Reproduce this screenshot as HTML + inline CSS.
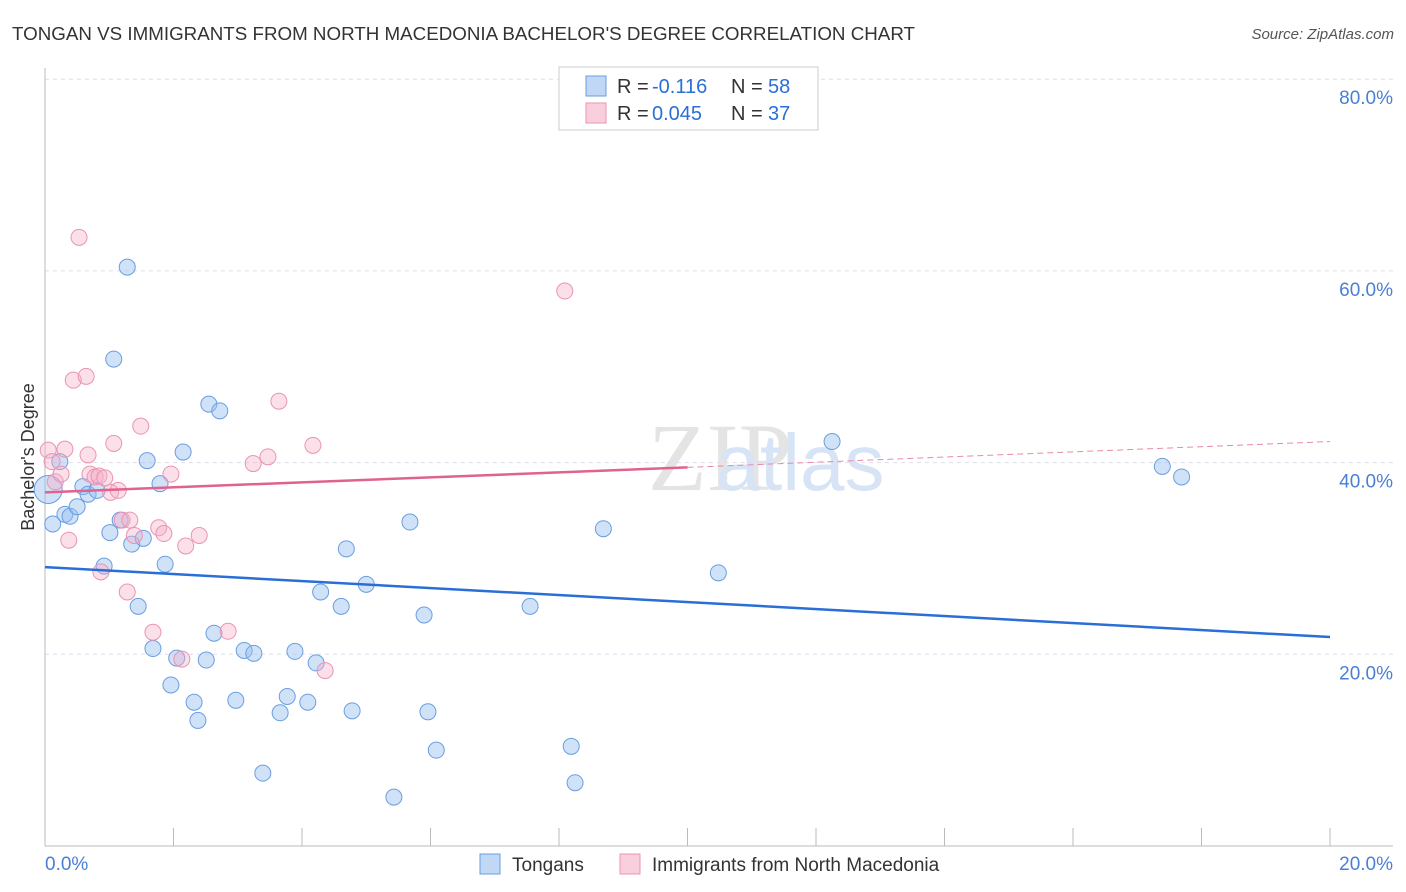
<!DOCTYPE html>
<html><head><meta charset="utf-8">
<style>
body{margin:0;background:#fff;width:1406px;height:892px;overflow:hidden;font-family:"Liberation Sans",sans-serif;}
svg{position:absolute;left:0;top:0;}
</style></head>
<body>
<svg id="chart" width="1406" height="892"></svg>
<script>
const blueX=[0.12,0.23,0.31,0.39,0.5,0.59,0.67,0.81,0.92,1.01,1.07,1.17,1.28,1.35,1.45,1.53,1.59,1.68,1.79,1.87,1.96,2.05,2.15,2.32,2.38,2.51,2.55,2.63,2.72,2.97,3.1,3.25,3.39,3.66,3.77,3.89,4.09,4.22,4.29,4.61,4.69,4.78,5.0,5.43,5.68,5.9,5.96,6.09,7.55,8.19,8.25,8.69,10.48,12.25,17.39,17.69,0.05];
const blueY=[33.6,40.1,34.6,34.4,35.4,37.5,36.7,37.1,29.2,32.7,50.8,34.0,60.4,31.5,25.0,32.1,40.2,20.6,37.8,29.4,16.8,19.6,41.1,15.0,13.1,19.4,46.1,22.2,45.4,15.2,20.4,20.1,7.6,13.9,15.6,20.3,15.0,19.1,26.5,25.0,31.0,14.1,27.3,5.1,33.8,24.1,14.0,10.0,25.0,10.4,6.6,33.1,28.5,42.2,39.6,38.5,37.2];
const pinkX=[0.05,0.11,0.16,0.25,0.31,0.37,0.44,0.53,0.64,0.67,0.7,0.78,0.84,0.87,0.93,1.02,1.07,1.14,1.2,1.28,1.32,1.39,1.49,1.68,1.77,1.85,1.96,2.13,2.19,2.4,2.85,3.24,3.47,3.64,4.17,4.36,8.09];
const pinkY=[41.3,40.1,38.0,38.8,41.4,31.9,48.6,63.5,49.0,40.8,38.8,38.5,38.6,28.6,38.4,36.9,42.0,37.1,34.0,26.5,34.0,32.4,43.8,22.3,33.2,32.6,38.8,19.5,31.3,32.4,22.4,39.9,40.6,46.4,41.8,18.3,57.9];
const yTicks=[20,40,60,80];
const NS="http://www.w3.org/2000/svg";
const svg=document.getElementById('chart');
const X0=45,X1=1330,Y0=846,PX=191.7/20;
const sx=v=>X0+(v/20)*(X1-X0);
const sy=v=>Y0-v*PX;
function mk(tag,attrs,text){const e=document.createElementNS(NS,tag);for(const k in attrs)e.setAttribute(k,attrs[k]);if(text!==undefined)e.textContent=text;svg.appendChild(e);return e;}
let t=mk('text',{x:12,y:40,'font-size':18,fill:'#333',textLength:903,lengthAdjust:'spacingAndGlyphs'},"TONGAN VS IMMIGRANTS FROM NORTH MACEDONIA BACHELOR'S DEGREE CORRELATION CHART");


t=mk('text',{x:1394,y:39,'font-size':15,fill:'#555','font-style':'italic','text-anchor':'end'},"Source: ZipAtlas.com");


t=mk('text',{x:720,y:490,'font-size':96,fill:'#e4e4e4','text-anchor':'middle','font-family':'Liberation Serif, serif'},"ZIP");


t=mk('text',{x:800,y:490,'font-size':80,fill:'#d6e4f5','text-anchor':'middle'},"atlas");


yTicks.forEach(v=>{
 let g=mk('line',{x1:X0,x2:1393,y1:sy(v),y2:sy(v),stroke:'#dde',"stroke-dasharray":'4,4'});
 
 
 let l=mk('text',{x:1393,y:sy(v)+25,'font-size':19,fill:'#4a7fd4','text-anchor':'end'},v.toFixed(1)+'%');
 
 
});
let a=mk('line',{x1:X0,x2:X0,y1:68,y2:Y0,stroke:'#bbb'});


a=mk('line',{x1:X0,x2:1393,y1:Y0,y2:Y0,stroke:'#bbb'});


for(let i=0;i<=20;i+=2){let tk=mk('line',{x1:sx(i),x2:sx(i),y1:Y0,y2:Y0-18,stroke:'#bbb'});
 
 }
t=mk('text',{x:45,y:870,'font-size':19,fill:'#4a7fd4'},"0.0%");


t=mk('text',{x:1393,y:870,'font-size':19,fill:'#4a7fd4','text-anchor':'end'},"20.0%");


t=mk('text',{x:34,y:457,'font-size':18,fill:'#333','text-anchor':'middle',transform:'rotate(-90 34 457)'},"Bachelor's Degree");


blueX.forEach((v,i)=>{let c=mk('circle',{cx:sx(v),cy:sy(blueY[i]),r:i==blueX.length-1?14:8,fill:'rgba(150,190,240,0.45)',stroke:'#6a9ee0','stroke-width':1});
 
 });
pinkX.forEach((v,i)=>{let c=mk('circle',{cx:sx(v),cy:sy(pinkY[i]),r:8,fill:'rgba(245,175,200,0.4)',stroke:'#ea94b2','stroke-width':1});
 
 });
let ln=mk('line',{x1:sx(0),y1:sy(29.1),x2:sx(20),y2:sy(21.8),stroke:'#2a6fd6','stroke-width':2.5});


ln=mk('line',{x1:sx(0),y1:sy(36.9),x2:sx(10),y2:sy(39.5),stroke:'#e0628e','stroke-width':2.5});


ln=mk('line',{x1:sx(10),y1:sy(39.5),x2:sx(20),y2:sy(42.2),stroke:'#e88aaa','stroke-width':1,'stroke-dasharray':'6,4'});


let r=mk('rect',{x:559,y:67,width:259,height:63,fill:'#fff',stroke:'#ccc'});


[[86,'rgba(150,190,240,0.6)','#6a9ee0','-0.116','58'],[113,'rgba(245,175,200,0.6)','#ea94b2','0.045','37']].forEach(d=>{
 let s=mk('rect',{x:586,y:d[0]-10,width:20,height:20,fill:d[1],stroke:d[2]});
 
 
 let tx=mk('text',{x:617,y:d[0]+7,'font-size':20,fill:'#333'},'R = ');
 
 
 tx=mk('text',{x:652,y:d[0]+7,'font-size':20,fill:'#2a6fd6'},d[3]);
 
 
 tx=mk('text',{x:731,y:d[0]+7,'font-size':20,fill:'#333'},'N = ');
 
 
 tx=mk('text',{x:768,y:d[0]+7,'font-size':20,fill:'#2a6fd6'},d[4]);
 
 
});
[[480,'rgba(150,190,240,0.6)','#6a9ee0','Tongans'],[620,'rgba(245,175,200,0.6)','#ea94b2','Immigrants from North Macedonia']].forEach(d=>{
 let s=mk('rect',{x:d[0],y:854,width:20,height:20,fill:d[1],stroke:d[2]});
 
 
 let tx=mk('text',{x:d[0]+32,y:871,'font-size':19,fill:'#333'},d[3]);
 
 
});
</script>
</body></html>
